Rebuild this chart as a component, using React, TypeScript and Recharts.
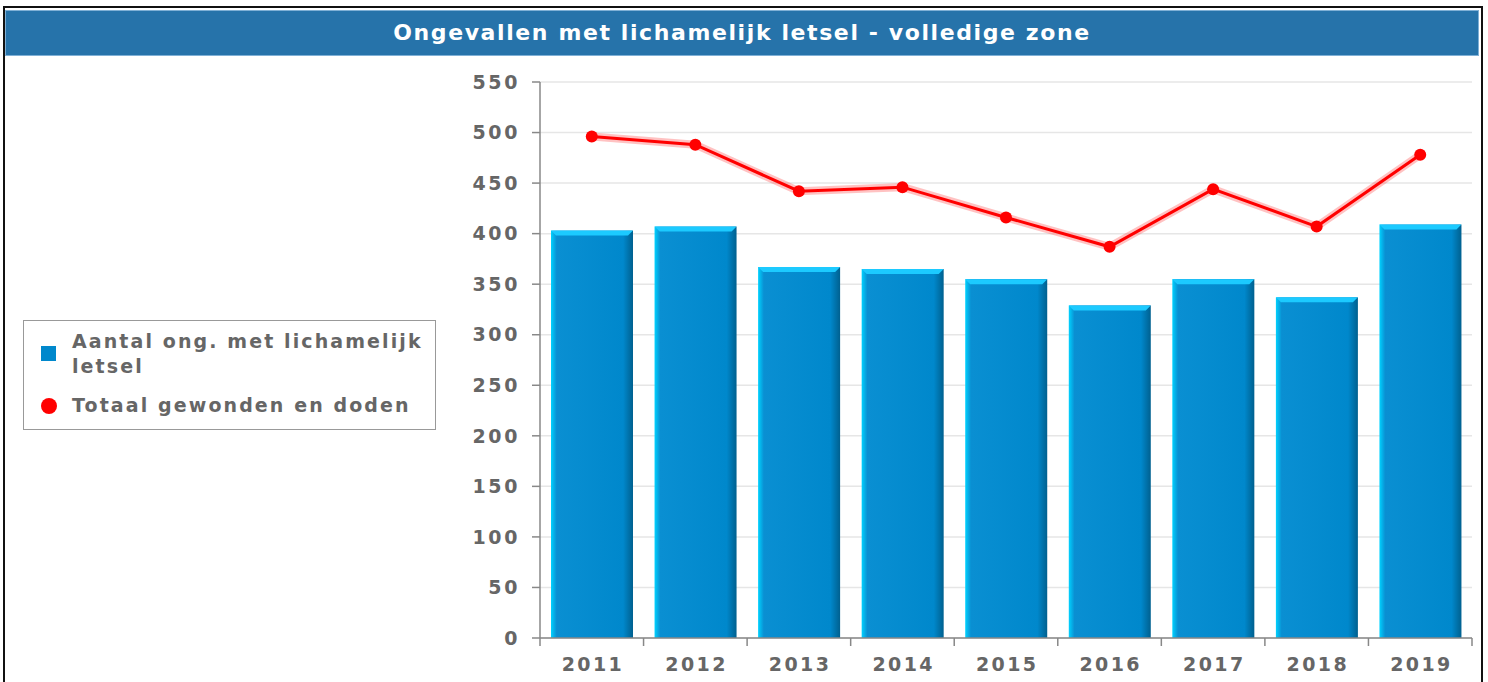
import { Bar, CartesianGrid, ComposedChart, Line, XAxis, YAxis } from 'recharts';

const years = ['2011', '2012', '2013', '2014', '2015', '2016', '2017', '2018', '2019'];
const ongevallen = [403, 407, 367, 365, 355, 329, 355, 337, 409];
const gewondenDoden = [496, 488, 442, 446, 416, 387, 444, 407, 478];
const yTicks = [0, 50, 100, 150, 200, 250, 300, 350, 400, 450, 500, 550];

const seriesNames = ['Aantal ong. met lichamelijk letsel', 'Totaal gewonden en doden'];
const title = 'Ongevallen met lichamelijk letsel - volledige zone';

const data = years.map((year, i) => ({
  year,
  ongevallen: ongevallen[i],
  gewonden: gewondenDoden[i],
}));

const FONT = '"DejaVu Sans", Verdana, sans-serif';
const TEXT_GREY = '#666';
const PLOT_LEFT = 540;
const PLOT_RIGHT = 1472;
const STEP = (PLOT_RIGHT - PLOT_LEFT) / years.length;

const BevelBar = (props: any) => {
  const { x, y, width, height } = props;
  if (!height || height <= 0) return null;
  const b = 5;
  return (
    <g>
      <rect x={x} y={y} width={width} height={height} fill="url(#barGrad)" />
      <polygon
        points={`${x},${y} ${x + width},${y} ${x + width - b},${y + b} ${x + b},${y + b}`}
        fill="#1ccaff"
      />
    </g>
  );
};

const XTick = (props: any) => {
  const { x, y, payload, index } = props;
  const left = x - STEP / 2;
  return (
    <g>
      <line x1={left} y1={y} x2={left} y2={y + 8} stroke="#888" strokeWidth={1.5} />
      {index === years.length - 1 && (
        <line x1={x + STEP / 2} y1={y} x2={x + STEP / 2} y2={y + 8} stroke="#888" strokeWidth={1.5} />
      )}
      <text
        x={x + 1.2}
        y={y + 27}
        textAnchor="middle"
        dominantBaseline="middle"
        fill={TEXT_GREY}
        fontSize={19}
        fontWeight="bold"
        fontFamily={FONT}
        letterSpacing={2.4}
      >
        {payload.value}
      </text>
    </g>
  );
};

export default function App() {
  return (
    <div style={{ position: 'absolute', left: 0, top: 0, width: 1488, height: 682, background: '#fff', overflow: 'hidden' }}>
      <div
        style={{
          position: 'absolute',
          left: 3,
          top: 6,
          width: 1476,
          height: 700,
          border: '2px solid #111',
        }}
      />
      <div
        style={{
          position: 'absolute',
          left: 5,
          top: 10,
          width: 1472,
          height: 44,
          background: '#2673aa',
          border: '1px solid #7fb0d6',
          color: '#fff',
          fontFamily: FONT,
          fontWeight: 'bold',
          fontSize: 22,
          letterSpacing: 1.6,
          lineHeight: '44px',
          textAlign: 'center',
        }}
      >
        {title}
      </div>
      <div
        style={{
          position: 'absolute',
          left: 23,
          top: 320,
          width: 411,
          height: 108,
          border: '1.5px solid #999',
          fontFamily: FONT,
          fontWeight: 'bold',
          fontSize: 19,
          letterSpacing: 2.1,
          color: TEXT_GREY,
          lineHeight: '25px',
        }}
      >
        <div style={{ position: 'absolute', left: 17, top: 25, width: 15, height: 15, background: '#0088cc' }} />
        <div style={{ position: 'absolute', left: 48, top: 8, width: 370 }}>
          {seriesNames[0].replace(' letsel', '')}
          <br />
          letsel
        </div>
        <div
          style={{ position: 'absolute', left: 17, top: 77, width: 16, height: 16, borderRadius: 8, background: '#ff0000' }}
        />
        <div style={{ position: 'absolute', left: 48, top: 72 }}>{seriesNames[1]}</div>
      </div>
      <div style={{ position: 'absolute', left: 0, top: 0 }}>
        <ComposedChart
          width={1488}
          height={682}
          data={data}
          margin={{ top: 82, right: 1488 - PLOT_RIGHT, bottom: 0, left: PLOT_LEFT - 80 }}
          barSize={82}
        >
          <defs>
            <linearGradient id="barGrad" x1="0" y1="0" x2="1" y2="0">
              <stop offset="0" stopColor="#00d2ff" />
              <stop offset="0.07" stopColor="#0a8fd2" />
              <stop offset="0.88" stopColor="#0088cc" />
              <stop offset="1" stopColor="#00608f" />
            </linearGradient>
          </defs>
          <CartesianGrid vertical={false} stroke="#e6e6e6" strokeWidth={1.5} />
          <XAxis
            dataKey="year"
            height={44}
            tickSize={0}
            tickMargin={0}
            tickLine={false}
            axisLine={{ stroke: '#888', strokeWidth: 1.5 }}
            tick={<XTick />}
            interval={0}
          />
          <YAxis
            width={80}
            domain={[0, 550]}
            ticks={yTicks}
            tickSize={8}
            tickMargin={12}
            interval={0}
            axisLine={{ stroke: '#888', strokeWidth: 1.5 }}
            tickLine={{ stroke: '#888', strokeWidth: 1.5 }}
            tick={{ fill: TEXT_GREY, fontSize: 19, fontWeight: 'bold', fontFamily: FONT, letterSpacing: 2.6 }}
          />
          <Bar
            dataKey="ongevallen"
            name={seriesNames[0]}
            shape={<BevelBar />}
            isAnimationActive={false}
          />
          <Line
            dataKey="gewonden"
            stroke="rgba(255,80,80,0.35)"
            strokeWidth={8}
            dot={false}
            activeDot={false}
            legendType="none"
            isAnimationActive={false}
          />
          <Line
            dataKey="gewonden"
            name={seriesNames[1]}
            stroke="#ff0000"
            strokeWidth={3}
            dot={{ r: 6, fill: '#ff0000', stroke: '#ff0000', strokeWidth: 0 }}
            activeDot={false}
            isAnimationActive={false}
          />
        </ComposedChart>
      </div>
    </div>
  );
}
